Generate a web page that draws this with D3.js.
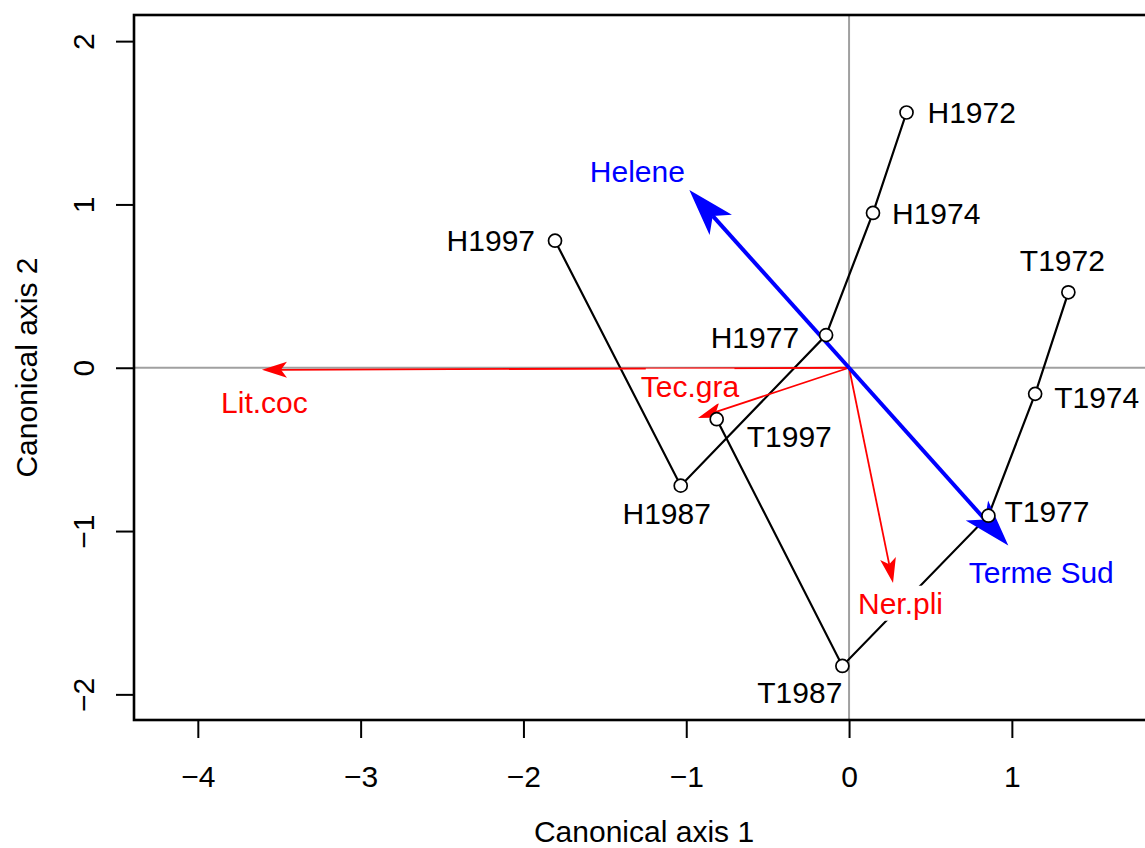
<!DOCTYPE html>
<html>
<head>
<meta charset="utf-8">
<script src="https://cdn.jsdelivr.net/npm/d3@7"></script>
<style>
  body { margin: 0; background: #fff; }
  svg { display: block; font-family: "Liberation Sans", Arial, sans-serif; }
</style>
</head>
<body>
<svg id="chart"></svg>
<script>
// --- DATA ---
const sites = ["H1972", "H1974", "H1977", "H1987", "H1997", "T1972", "T1974", "T1977", "T1987", "T1997"];
const axis1 = [0.353, 0.147, -0.141, -1.034, -1.806, 1.347, 1.143, 0.856, -0.041, -0.813];
const axis2 = [1.563, 0.948, 0.200, -0.722, 0.778, 0.462, -0.160, -0.906, -1.826, -0.315];
const trajectories = [
  ["H1972", "H1974", "H1977", "H1987", "H1997"],
  ["T1972", "T1974", "T1977", "T1987", "T1997"]
];

const species = ["Lit.coc", "Tec.gra", "Ner.pli"];
const speciesAx1 = [-3.606, -0.928, 0.270];
const speciesAx2 = [-0.013, -0.307, -1.318];

const areas = ["Helene", "Terme Sud"];
const areaAx1 = [-0.981, 0.978];
const areaAx2 = [1.089, -1.089];

const xTicks = [-4, -3, -2, -1, 0, 1];
const yTicks = [-2, -1, 0, 1, 2];

// --- LAYOUT (label placement, pixels from the point / arrow tip) ---
const siteLabelPos = {
  H1972: ["start", 21, 0], H1974: ["start", 19, 0], H1977: ["end", -27, 2],
  H1987: ["middle", -14, 28], H1997: ["end", -20, 0],
  T1972: ["middle", -6, -32], T1974: ["start", 19, 3], T1977: ["start", 16, -4],
  T1987: ["end", 0, 26.5], T1997: ["start", 30, 17]
};
const arrowLabelPos = {
  "Lit.coc": [2.5, 32], "Tec.gra": [-8, -32], "Ner.pli": [7.5, 20],
  "Helene": [-52, -19], "Terme Sud": [33, 26.5]
};

const width = 1145, height = 848;
const plot = { left: 134, top: 15, right: 1154, bottom: 720 };
const fontSize = 30;

const svg = d3.select("#chart").attr("width", width).attr("height", height);

// --- SCALES ---
const x = d3.scaleLinear().domain([-4.392, 1.873]).range([plot.left, plot.right]);
const y = d3.scaleLinear().domain([-2.157, 2.160]).range([plot.bottom, plot.top]);

svg.append("clipPath").attr("id", "clip")
  .append("rect").attr("x", plot.left).attr("y", plot.top)
  .attr("width", plot.right - plot.left).attr("height", plot.bottom - plot.top);

const g = svg.append("g").attr("clip-path", "url(#clip)");

// zero lines
g.append("line").attr("x1", plot.left).attr("x2", plot.right).attr("y1", y(0)).attr("y2", y(0))
  .attr("stroke", "#a0a0a0").attr("stroke-width", 2);
g.append("line").attr("x1", x(0)).attr("x2", x(0)).attr("y1", plot.top).attr("y2", plot.bottom)
  .attr("stroke", "#a0a0a0").attr("stroke-width", 2);

// --- TRAJECTORIES ---
const idx = name => sites.indexOf(name);
const line = d3.line().x(d => x(axis1[idx(d)])).y(d => y(axis2[idx(d)]));
g.selectAll("path.traj").data(trajectories).join("path")
  .attr("class", "traj").attr("d", line)
  .attr("fill", "none").attr("stroke", "#000").attr("stroke-width", 2.2);

// --- ARROWS ---
function arrow(tx, ty, color, lw, L, W, N) {
  const x0 = x(0), y0 = y(0), x1 = x(tx), y1 = y(ty);
  const len = Math.hypot(x1 - x0, y1 - y0);
  const ux = (x1 - x0) / len, uy = (y1 - y0) / len;
  const nx = -uy, ny = ux;
  g.append("line").attr("x1", x0).attr("y1", y0)
    .attr("x2", x1 - N * ux).attr("y2", y1 - N * uy)
    .attr("stroke", color).attr("stroke-width", lw);
  const head = [
    [x1, y1],
    [x1 - L * ux + W * nx, y1 - L * uy + W * ny],
    [x1 - N * ux, y1 - N * uy],
    [x1 - L * ux - W * nx, y1 - L * uy - W * ny]
  ];
  g.append("path").attr("d", "M" + head.join("L") + "Z").attr("fill", color);
}
species.forEach((s, i) => arrow(speciesAx1[i], speciesAx2[i], "#ff0000", 1.8, 25, 8, 19));
areas.forEach((s, i) => arrow(areaAx1[i], areaAx2[i], "#0000ff", 4, 47, 15, 35));

// --- POINTS ---
g.selectAll("circle.site").data(sites).join("circle")
  .attr("class", "site")
  .attr("cx", (d, i) => x(axis1[i])).attr("cy", (d, i) => y(axis2[i]))
  .attr("r", 6.5).attr("fill", "#fff").attr("stroke", "#000").attr("stroke-width", 1.7);

// --- LABELS ---
const capShift = fontSize * 0.358;
sites.forEach((s, i) => {
  const [anchor, dx, dy] = siteLabelPos[s];
  g.append("text").attr("x", x(axis1[i]) + dx).attr("y", y(axis2[i]) + dy + capShift)
    .attr("text-anchor", anchor).attr("font-size", fontSize).attr("fill", "#000").text(s);
});

function boxedLabel(name, tx, ty, color) {
  const [dx, dy] = arrowLabelPos[name];
  const lg = g.append("g");
  const rect = lg.append("rect").attr("fill", "#fff");
  const t = lg.append("text").attr("x", x(tx) + dx).attr("y", y(ty) + dy + capShift)
    .attr("text-anchor", "middle").attr("font-size", fontSize).attr("fill", color).text(name);
  const bb = t.node().getBBox();
  rect.attr("x", bb.x + 5).attr("y", bb.y - 1).attr("width", bb.width - 10).attr("height", bb.height + 2);
}
species.forEach((s, i) => boxedLabel(s, speciesAx1[i], speciesAx2[i], "#ff0000"));
areas.forEach((s, i) => boxedLabel(s, areaAx1[i], areaAx2[i], "#0000ff"));

// --- AXES ---
const xAxis = svg.append("g").attr("transform", `translate(0,${plot.bottom})`)
  .call(d3.axisBottom(x).tickValues(xTicks).tickSize(18).tickFormat(d3.format("d")));
xAxis.select(".domain").remove();
xAxis.selectAll(".tick line").attr("stroke", "#000").attr("stroke-width", 2);
xAxis.selectAll(".tick text").attr("y", 67).attr("dy", null)
  .attr("font-size", fontSize).attr("font-family", null).attr("fill", "#000");

const yAxis = svg.append("g").attr("transform", `translate(${plot.left},0)`)
  .call(d3.axisLeft(y).tickValues(yTicks).tickSize(18).tickFormat(d3.format("d")));
yAxis.select(".domain").remove();
yAxis.selectAll(".tick line").attr("stroke", "#000").attr("stroke-width", 2);
yAxis.selectAll(".tick text")
  .attr("transform", "rotate(-90)").attr("x", 0).attr("y", -40).attr("dy", null)
  .attr("text-anchor", "middle").attr("font-size", fontSize).attr("font-family", null).attr("fill", "#000");

// plot box
svg.append("rect").attr("x", plot.left).attr("y", plot.top)
  .attr("width", plot.right - plot.left).attr("height", plot.bottom - plot.top)
  .attr("fill", "none").attr("stroke", "#000").attr("stroke-width", 2.6);

// titles
svg.append("text").attr("x", (plot.left + plot.right) / 2).attr("y", 842)
  .attr("text-anchor", "middle").attr("font-size", fontSize).text("Canonical axis 1");
svg.append("text").attr("transform", `translate(37,${(plot.top + plot.bottom) / 2}) rotate(-90)`)
  .attr("text-anchor", "middle").attr("font-size", fontSize).text("Canonical axis 2");
</script>
</body>
</html>
